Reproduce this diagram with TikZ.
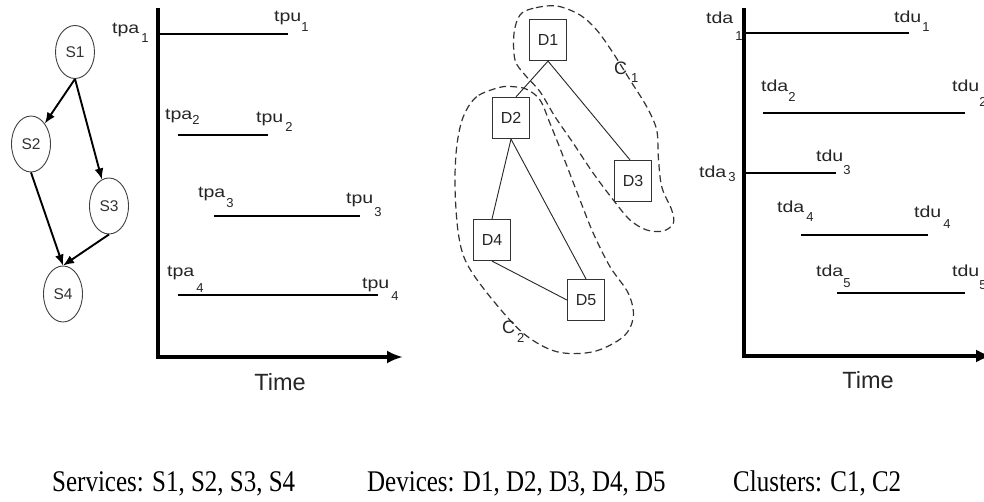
\documentclass[tikz,border=0pt]{standalone}
\usepackage{fontspec}
\setmainfont{Liberation Serif}
\setsansfont{Liberation Sans}
\usepackage{graphicx}
\usetikzlibrary{arrows.meta,shapes.geometric}

% time label with a lowered index: #1 name, #2 index, #3 gap, #4 drop
\newcommand{\tsub}[4]{\scalebox{1.22}[1]{\fontsize{16}{16}\selectfont #1}\hspace*{#3pt}\raisebox{-#4pt}{\fontsize{13}{13}\selectfont #2}}
% cluster label
\newcommand{\csub}[4]{{\fontsize{18}{18}\selectfont #1}\hspace*{#3pt}\raisebox{-#4pt}{\fontsize{13}{13}\selectfont #2}}

\tikzset{
  svc/.style={ellipse, draw=black!75, line width=0.9pt, minimum width=39pt,
    minimum height=56pt, inner sep=0pt, text=black!80,
    font=\sffamily\fontsize{15.5}{15.5}\selectfont},
  dev/.style={rectangle, draw=black!80, line width=1.2pt, minimum width=37pt,
    minimum height=41pt, inner sep=0pt, text=black!85,
    font=\sffamily\fontsize{16}{16}\selectfont},
  flow/.style={line width=1.9pt, -{Latex[length=11pt,width=9pt]}},
  link/.style={line width=0.9pt, black!85},
  axis/.style={line width=3.2pt, line join=miter, -{Latex[length=16pt,width=13pt]}},
  bar/.style={line width=2.6pt},
  thinbar/.style={line width=1.4pt},
  cluster/.style={line width=1.2pt, black!80, dash pattern=on 7pt off 4pt},
  lab/.style={anchor=base west, inner sep=0pt, font=\sffamily, text=black!85},
  timelab/.style={anchor=base, inner sep=0pt, text=black!85,
    font=\sffamily\fontsize{23.5}{23.5}\selectfont},
  note/.style={anchor=base west, inner sep=0pt, font=\fontsize{30}{30}\selectfont}
}

\begin{document}
\begin{tikzpicture}[x=1pt, y=-1pt]
\useasboundingbox (0,0) rectangle (984,502);
\clip (0,0) rectangle (984,502);
\fill[white] (0,0) rectangle (984,502);

% ---------- service graph ----------
\node[svc, minimum height=53pt] (S1) at (75,52) {S1};
\node[svc] (S2) at (31,144) {S2};
\node[svc] (S3) at (109,206) {S3};
\node[svc] (S4) at (63,294) {S4};
\draw[flow] (S1.south) -- (S2);
\draw[flow] (S1.south) -- (S3);
\draw[flow] (S2.south) -- (S4.north);
\draw[flow] (S3.south) -- (S4.north);

% ---------- service time line ----------
\coordinate (pTop) at (158,8);
\coordinate (pO) at (158,357);
\coordinate (pEnd) at (403,357);
\draw[axis] (pTop) -- (pO) -- (pEnd);
\draw[bar] (158,34) -- (288,34);
\draw[bar] (178,135) -- (268,135);
\draw[bar] (214,216) -- (360,216);
\draw[thinbar] (178,295) -- (378,295);
\node[lab] (tpa1) at (112,34) {\tsub{tpa}{1}{2}{9}};
\node[lab] (tpu1) at (274,22) {\tsub{tpu}{1}{0}{10}};
\node[lab] (tpa2) at (165,120) {\tsub{tpa}{2}{0}{5}};
\node[lab] (tpu2) at (256,123) {\tsub{tpu}{2}{2}{9}};
\node[lab] (tpa3) at (198,198) {\tsub{tpa}{3}{1}{10}};
\node[lab] (tpu3) at (346,204) {\tsub{tpu}{3}{1}{13}};
\node[lab] (tpa4) at (167,277) {\tsub{tpa}{4}{2}{15}};
\node[lab] (tpu4) at (362,288) {\tsub{tpu}{4}{2}{13}};
\node[timelab] (time1) at (280,390) {Time};

% ---------- device graph and clusters ----------
\draw[cluster] plot[smooth cycle, tension=0.55] coordinates {
  (556.7,6) (533.3,8.3) (520,15) (514,33.3) (515,60) (525,75) (540,91.7)
  (555,116.7) (573.3,143.3) (593.3,173.3) (613.3,200) (630,220) (646.7,230)
  (663.3,231) (673.3,223.3) (671.7,210) (661.7,186.7) (658.3,156.7)
  (656.7,130) (646.7,106.7) (630,80) (613.3,53.3) (596.7,30) (580,15)};
\draw[cluster] plot[smooth cycle, tension=0.55] coordinates {
  (500,87.3) (476.7,96.7) (463.3,116.7) (456.7,146.7) (455,186.7)
  (458.3,233.3) (466.7,263.3) (490,296.7) (523.3,333.3) (556.7,351.7)
  (593.3,351.7) (623.3,336.7) (633.3,316.7) (628.3,293.3) (610,266.7)
  (593.3,233.3) (580,200) (563.3,156.7) (550,123.3) (540,100)
  (526.7,89.3) (513.3,86.7)};

\node[dev, fill=white] (D1) at (548,40) {D1};
\node[dev, fill=white] (D2) at (511,118) {D2};
\node[dev, fill=white] (D3) at (633,181) {D3};
\node[dev, fill=white] (D4) at (492,240) {D4};
\node[dev, fill=white] (D5) at (586,300) {D5};
\draw[link] (D1.south) -- ([xshift=5pt]D2.north);
\draw[link] (D1.south) -- ([xshift=-3pt]D3.north);
\draw[link] (D2.south) -- (D4.north);
\draw[link] (D2.south) -- (D5.north);
\draw[link] (D4.south) -- (D5.west);
\node[lab] (C1) at (614,75) {\csub{C}{1}{4}{8}};
\node[lab] (C2) at (502,333) {\csub{C}{2}{2}{9}};

% ---------- device time line ----------
\coordinate (dTop) at (744,8);
\coordinate (dO) at (744,356);
\coordinate (dEnd) at (992,356);
\draw[axis] (dTop) -- (dO) -- (dEnd);
\draw[bar] (744,33) -- (909,33);
\draw[thinbar] (763,113) -- (965,113);
\draw[thinbar] (744,173) -- (836,173);
\draw[thinbar] (801,235) -- (928,235);
\draw[thinbar] (837,293) -- (965,293);
\node[lab] (tda1) at (706,24) {\tsub{tda}{1}{2}{17}};
\node[lab] (tdu1) at (894,23) {\tsub{tdu}{1}{1}{9}};
\node[lab] (tda2) at (761,92) {\tsub{tda}{2}{0}{10}};
\node[lab] (tdu2) at (952,92) {\tsub{tdu}{2}{0}{15}};
\node[lab] (tda3) at (699,178) {\tsub{tda}{3}{2}{4}};
\node[lab] (tdu3) at (816,162) {\tsub{tdu}{3}{0}{13}};
\node[lab] (tda4) at (777,213) {\tsub{tda}{4}{2}{9}};
\node[lab] (tdu4) at (914,218) {\tsub{tdu}{4}{2}{11}};
\node[lab] (tda5) at (816,277) {\tsub{tda}{5}{0}{10}};
\node[lab] (tdu5) at (952,277) {\tsub{tdu}{5}{0}{13}};
\node[timelab] (time2) at (868,388) {Time};

% ---------- legend ----------
\node[note] (lsvc) at (52,491) {\scalebox{0.833}[1]{Services: S1, S2, S3, S4}};
\node[note] (ldev) at (367,491) {\scalebox{0.833}[1]{Devices: D1, D2, D3, D4, D5}};
\node[note] (lclu) at (733,491) {\scalebox{0.833}[1]{Clusters: C1, C2}};
\end{tikzpicture}
\end{document}
